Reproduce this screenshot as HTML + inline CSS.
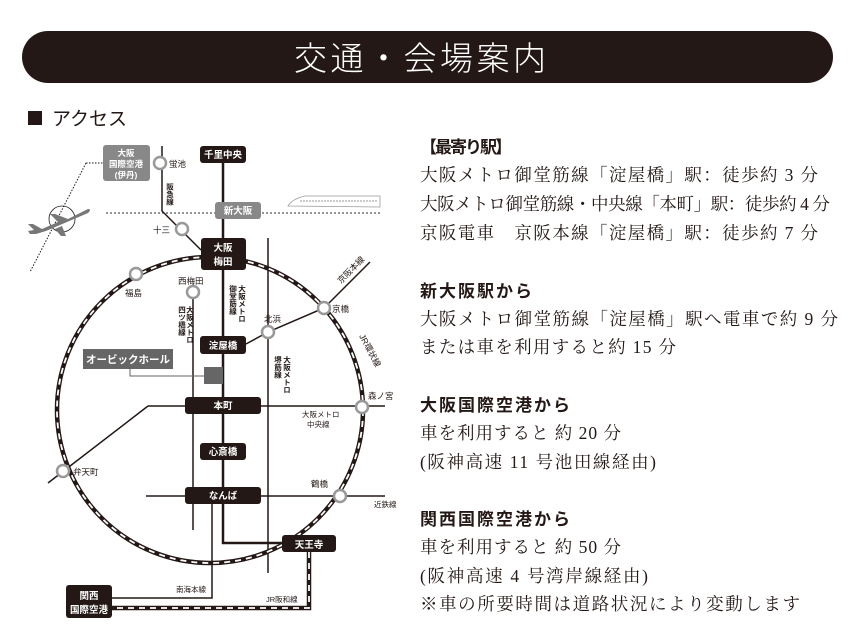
<!DOCTYPE html>
<html><head><meta charset="utf-8"><style>
html,body{margin:0;padding:0;background:#fff;}
svg{display:block}
.s{font-family:"Liberation Sans","Noto Sans CJK JP",sans-serif}
.m{font-family:"Liberation Serif","Noto Serif CJK SC",serif;font-size:17.5px;fill:#231815}
.h{font-family:"Liberation Sans","Noto Sans CJK JP",sans-serif;font-weight:bold;font-size:17px;fill:#231815}
.w{fill:#fff;font-size:9.5px;font-weight:bold;font-family:"Liberation Sans","Noto Sans CJK JP",sans-serif}
.l{fill:#231815;font-size:8.5px;font-family:"Liberation Sans","Noto Sans CJK JP",sans-serif}
.v{fill:#231815;font-size:7.5px;font-weight:bold;font-family:"Liberation Sans","Noto Sans CJK JP",sans-serif;writing-mode:tb}
</style></head><body>
<svg width="860" height="641" viewBox="0 0 860 641" xmlns="http://www.w3.org/2000/svg">
<rect x="22" y="31" width="811" height="52" rx="26" fill="#231815"/>
<text x="420" y="70" fill="#fff" class="s" font-size="33" font-weight="300" text-anchor="middle" textLength="252">交通・会場案内</text>
<rect x="28" y="111" width="14" height="14" fill="#231815"/>
<text x="52" y="125" class="s" font-size="19" fill="#231815">アクセス</text>

<!-- right text -->
<text x="420" y="153" class="h" textLength="92">【最寄り駅】</text>
<text x="420" y="181" class="m" textLength="398">大阪メトロ御堂筋線「淀屋橋」駅：徒歩約 3 分</text>
<text x="420" y="210" class="m" textLength="410">大阪メトロ御堂筋線・中央線「本町」駅：徒歩約 4 分</text>
<text x="420" y="239" class="m" textLength="398">京阪電車　京阪本線「淀屋橋」駅：徒歩約 7 分</text>
<text x="420" y="297" class="h" textLength="112">新大阪駅から</text>
<text x="420" y="325" class="m" textLength="418">大阪メトロ御堂筋線「淀屋橋」駅へ電車で約 9 分</text>
<text x="420" y="353" class="m" textLength="256">または車を利用すると約 15 分</text>
<text x="420" y="411" class="h" textLength="150">大阪国際空港から</text>
<text x="420" y="439" class="m" textLength="201">車を利用すると 約 20 分</text>
<text x="420" y="468" class="m" textLength="236">(阪神高速 11 号池田線経由)</text>
<text x="420" y="525" class="h" textLength="150">関西国際空港から</text>
<text x="420" y="553" class="m" textLength="201">車を利用すると 約 50 分</text>
<text x="420" y="582" class="m" textLength="228">(阪神高速 4 号湾岸線経由)</text>
<text x="420" y="610" class="m" textLength="380">※車の所要時間は道路状況により変動します</text>

<!-- map lines -->
<g stroke="#231815" fill="none">
<line x1="106" y1="213" x2="380" y2="213" stroke-width="1.2" stroke-dasharray="2 2" stroke="#555"/>
<polyline points="86,163 103,163" stroke-width="1" stroke-dasharray="1.5 1.5"/>
<line x1="86" y1="163" x2="30" y2="272" stroke-width="1" stroke-dasharray="1.5 1.5"/>
<circle cx="62" cy="219" r="13" stroke-width="0.8"/>
<polyline points="162,146 162,211 201,250" stroke-width="1.5"/>
<line x1="193" y1="292" x2="193" y2="530" stroke-width="1.5"/>
<line x1="268" y1="238" x2="268" y2="573" stroke-width="1.5"/>
<polyline points="246,344 268,332 324,308 370,262" stroke-width="1.5"/>
<polyline points="148,406 385,406" stroke-width="1.5"/>
<line x1="148" y1="406" x2="48" y2="483" stroke-width="1.5"/>
<line x1="146" y1="496" x2="385" y2="496" stroke-width="1.5"/>
<polyline points="212,504 212,598 112,598" stroke-width="1.5"/>
<polyline points="130,369 130,376 204,376" stroke-width="1" stroke="#666"/>
<polyline points="223,146 223,543 282,543" stroke-width="2.5"/>
<circle cx="210" cy="410" r="153" stroke-width="4.5"/>
<circle cx="210" cy="410" r="153" stroke-width="1.8" stroke="#fff" stroke-dasharray="6 5"/>
<polyline points="309,552 309,608 112,608" stroke-width="4.5"/>
<polyline points="309,552 309,608 112,608" stroke-width="1.8" stroke="#fff" stroke-dasharray="6 5"/>
</g>
<!-- plane -->
<path d="M88,209 Q92,209 88,213 L46,231 L36,234 L30,234 L28,231 L34,230 L28,224 L33,224 L42,229 L58,222 L50,214 L55,214 L68,219 Z M62,226 L66,236 L61,236 L55,229 Z" fill="#777"/>
<!-- shinkansen -->
<path d="M288,206 Q292,199 305,196 L380,196 L380,207 Z" fill="#fff" stroke="#999" stroke-width="0.8"/>
<line x1="300" y1="201" x2="378" y2="201" stroke="#999" stroke-width="1" stroke-dasharray="2 1"/>
<!-- open stations -->
<g fill="#fff" stroke="#999" stroke-width="2.5">
<circle cx="160" cy="163" r="6"/><circle cx="182" cy="229" r="6"/><circle cx="193" cy="292" r="6"/>
<circle cx="136" cy="274" r="6"/><circle cx="268" cy="332" r="6"/><circle cx="324" cy="308" r="6"/>
<circle cx="362" cy="407" r="6"/><circle cx="63" cy="471" r="6"/><circle cx="340" cy="496" r="6"/>
</g>
<!-- boxes -->
<g fill="#231815">
<rect x="200" y="146" width="46" height="17" rx="3"/>
<rect x="201" y="238" width="45" height="32" rx="3"/>
<rect x="200" y="336" width="46" height="18" rx="3"/>
<rect x="185" y="397" width="76" height="17" rx="3"/>
<rect x="200" y="443" width="46" height="17" rx="3"/>
<rect x="185" y="487" width="76" height="17" rx="3"/>
<rect x="282" y="535" width="54" height="17" rx="3"/>
<rect x="66" y="585" width="46" height="33" rx="3"/>
</g>
<rect x="215" y="202" width="46" height="17" rx="3" fill="#888"/>
<rect x="103" y="145" width="47" height="36" rx="3" fill="#888"/>
<rect x="83" y="349" width="90" height="20" fill="#666"/>
<rect x="204" y="367" width="19" height="17" fill="#666"/>
<g class="w" text-anchor="middle">
<text x="223" y="158">千里中央</text>
<text x="223" y="251">大阪</text><text x="223" y="265">梅田</text>
<text x="223" y="349">淀屋橋</text>
<text x="223" y="409">本町</text>
<text x="223" y="455">心斎橋</text>
<text x="223" y="499">なんば</text>
<text x="309" y="548">天王寺</text>
<text x="89" y="599">関西</text><text x="89" y="613">国際空港</text>
<text x="238" y="214">新大阪</text>
<text x="126" y="156" font-size="8.5">大阪</text><text x="126" y="167" font-size="8.5">国際空港</text><text x="126" y="178" font-size="8.5">(伊丹)</text>
<text x="128" y="363" font-size="10.5">オービックホール</text>
</g>
<g class="l">
<text x="169" y="167">蛍池</text>
<text x="153" y="233">十三</text>
<text x="178" y="284">西梅田</text>
<text x="125" y="296">福島</text>
<text x="264" y="322">北浜</text>
<text x="332" y="312">京橋</text>
<text x="368" y="399">森ノ宮</text>
<text x="73" y="475">弁天町</text>
<text x="311" y="487">鶴橋</text>
<text x="374" y="507" font-size="7.5">近鉄線</text>
<text x="302" y="417" font-size="7.5">大阪メトロ</text>
<text x="307" y="427" font-size="7.5">中央線</text>
<text x="176" y="592" font-size="7.5">南海本線</text>
<text x="266" y="602" font-size="7.5">JR阪和線</text>
</g>
<g class="v">
<text x="170" y="183">阪急線</text>
<text x="233" y="285">御堂筋線</text><text x="242" y="285">大阪メトロ</text>
<text x="182" y="306">四ツ橋線</text><text x="190" y="306">大阪メトロ</text>
<text x="278" y="356">堺筋線</text><text x="287" y="356">大阪メトロ</text>
</g>
<text x="341" y="284" class="l" font-size="7.5" transform="rotate(-45 341 284)">京阪本線</text>
<text x="359" y="336" class="l" font-size="7.5" transform="rotate(62 359 336)">JR環状線</text>
</svg>
</body></html>
